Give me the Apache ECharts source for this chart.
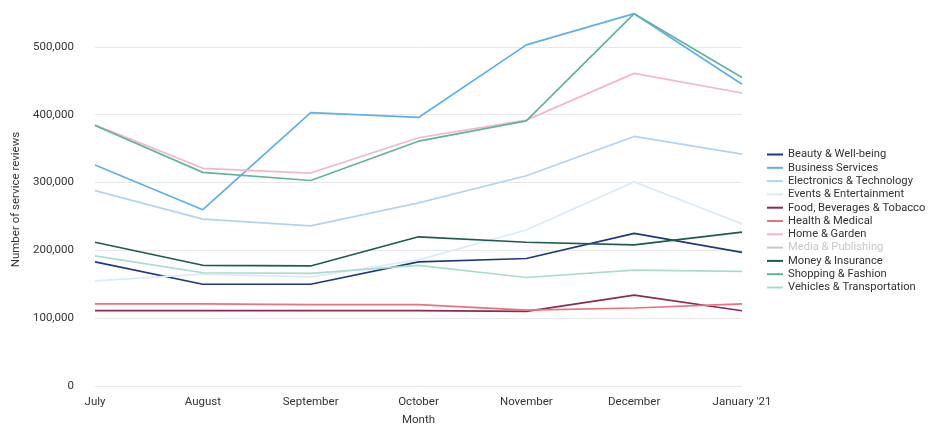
<!DOCTYPE html>
<html>
<head>
<meta charset="utf-8">
<script src="https://cdn.jsdelivr.net/npm/echarts@6/dist/echarts.min.js"></script>
<style>html,body{margin:0;padding:0;background:#fff}#c{width:940px;height:438px}</style>
</head>
<body>
<div id="c"></div>
<script>
const months = ["July","August","September","October","November","December","January '21"];
const seriesNames = ["Beauty & Well-being","Business Services","Electronics & Technology","Events & Entertainment","Food, Beverages & Tobacco","Health & Medical","Home & Garden","Media & Publishing","Money & Insurance","Shopping & Fashion","Vehicles & Transportation"];
const beauty      = [183000,150000,150000,183000,188000,225000,197000];
const business    = [326000,260000,403000,396000,503000,549000,445000];
const electronics = [288000,246000,236000,270000,310000,368000,342000];
const events      = [155000,165000,161000,186000,230000,301000,239000];
const food        = [111000,111000,111000,111000,110000,134000,111000];
const health      = [121000,121000,120000,120000,112000,115000,121000];
const home        = [385000,321000,314000,366000,392000,461000,432000];
const media       = [null,null,null,null,null,null,null];
const money       = [212000,178000,177000,220000,212000,208000,227000];
const shopping    = [384000,315000,303000,361000,391000,549000,455000];
const vehicles    = [192000,167000,166000,178000,160000,171000,169000];
const yTicks = [0,100000,200000,300000,400000,500000];

const dataList = [beauty,business,electronics,events,food,health,home,media,money,shopping,vehicles];
const colors = ["#1f3a7a","#5fb0e8","#b5d3f0","#dcebf7","#8e2a52","#e8727f","#f2b8c6","#c8c8c8","#1f5a50","#62b39e","#a9dcd0"];

const chart = echarts.init(document.getElementById('c'));
chart.setOption({
  animation:false,
  color: colors,
  textStyle:{fontFamily:'Roboto'},
  grid:{left:95,right:198,top:13,bottom:52,containLabel:false},
  legend:{
    orient:'vertical', left:762, top:144,
    icon:'rect', itemWidth:16, itemHeight:2, itemGap:2.3,
    textStyle:{fontSize:11.2, color:'#333', fontFamily:'Roboto', lineHeight:11},
    selected:{"Media & Publishing":false},
    inactiveColor:'#c8c8c8',
    data: seriesNames
  },
  xAxis:{
    type:'category', data:months, boundaryGap:false,
    name:'Month', nameLocation:'middle', nameGap:28,
    nameTextStyle:{fontSize:11.5,color:'#333'},
    axisLine:{show:false}, axisTick:{show:false},
    axisLabel:{fontSize:11.5,color:'#333',margin:10}
  },
  yAxis:{
    type:'value', min:0, max:550000, interval:100000,
    name:'Number of service reviews', nameLocation:'middle', nameGap:68, nameRotate:90,
    nameTextStyle:{fontSize:11.5,color:'#333'},
    axisLine:{show:false}, axisTick:{show:false},
    axisLabel:{fontSize:11.5,color:'#333',margin:21,
      formatter:v=> yTicks.includes(v) ? v.toLocaleString('en-US') : ''},
    splitLine:{lineStyle:{color:'#e8e8e8'}, showMaxLine:false}
  },
  series: seriesNames.map((n,i)=>({
    name:n, type:'line', data:dataList[i], symbol:'none',
    lineStyle:{width:1.7, color:colors[i]}, itemStyle:{color:colors[i]}
  }))
});
</script>
</body>
</html>
